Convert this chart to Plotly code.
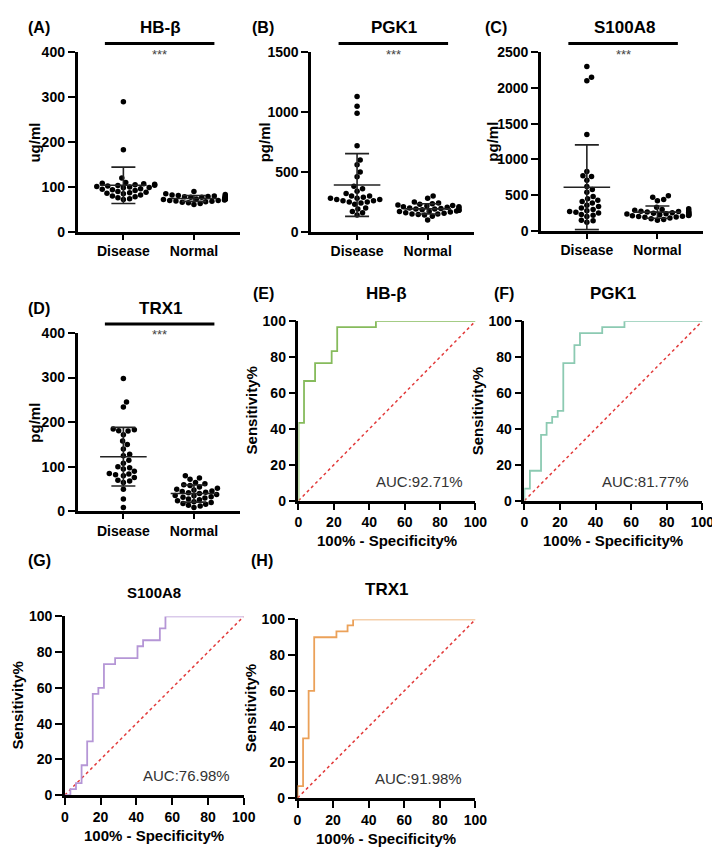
import math

import plotly.graph_objects as go

W, H = 720, 849
FONT = "Liberation Sans, Arial, sans-serif"

GROUPS = ["Disease", "Normal"]

HBB_DISEASE = [290, 183, 120, 110, 108, 107, 106, 105, 104, 103, 102, 101, 100, 99, 98,
               96, 95, 94, 92, 90, 88, 87, 86, 85, 82, 80, 78, 76, 74, 72]
HBB_NORMAL = [90, 85, 83, 82, 81, 80, 80, 79, 78, 78, 77, 77, 76, 76, 75, 75,
              74, 74, 73, 73, 72, 72, 71, 70, 70, 69, 68, 67, 66, 65, 63, 61]
PGK1_DISEASE = [1130, 1050, 990, 720, 600, 560, 500, 460, 380, 360, 340, 320, 300, 290, 280,
                270, 300, 280, 260, 250, 270, 260, 250, 240, 230, 200, 190, 170, 160, 140]
PGK1_NORMAL = [300, 280, 250, 240, 235, 230, 225, 220, 215, 210, 210, 205, 200, 200, 195, 190,
               190, 185, 180, 180, 175, 170, 170, 165, 160, 155, 150, 150, 145, 140, 130, 100]
S100A8_DISEASE = [2300, 2150, 2100, 1350, 830, 770, 760, 710, 620, 580, 540, 480, 450, 430, 410,
                  390, 360, 340, 320, 300, 280, 260, 270, 250, 230, 220, 200, 150, 140, 120]
S100A8_NORMAL = [490, 470, 440, 420, 330, 310, 300, 290, 280, 275, 270, 265, 260, 255, 250, 245,
                 240, 240, 235, 230, 225, 220, 215, 210, 205, 200, 195, 190, 180, 170, 160, 150]
TRX1_DISEASE = [298, 245, 234, 185, 183, 181, 180, 172, 158, 150, 140, 128, 125, 115, 108,
                100, 98, 95, 90, 85, 84, 82, 80, 76, 70, 68, 65, 50, 28, 9]
TRX1_NORMAL = [80, 75, 72, 65, 62, 60, 58, 55, 52, 50, 48, 46, 45, 43, 42, 40,
               38, 36, 35, 33, 32, 30, 28, 26, 24, 22, 20, 18, 16, 14, 12, 9]

# ROC corner points (100% - specificity, sensitivity), drawn as steps
HBB_FPR = [0, 0, 3.125, 9.375, 18.75, 21.875, 43.75, 100]
HBB_TPR = [0, 43.33, 66.67, 76.67, 83.33, 96.67, 100, 100]
PGK1_FPR = [0, 0, 3.125, 9.375, 12.5, 15.625, 18.75, 21.875, 28.125, 31.25, 43.75, 56.25, 100]
PGK1_TPR = [0, 6.67, 16.67, 36.67, 43.33, 46.67, 50, 76.67, 86.67, 93.33, 96.67, 100, 100]
S100A8_FPR = [0, 3.125, 6.25, 9.375, 12.5, 15.625, 18.75, 21.875, 28.125, 40.625, 43.75,
              53.125, 56.25, 100]
S100A8_TPR = [0, 3.33, 6.67, 16.67, 30, 56.67, 60, 73.33, 76.67, 83.33, 86.67, 93.33, 100, 100]
TRX1_FPR = [0, 0, 3.125, 6.25, 9.375, 21.875, 28.125, 31.25, 100]
TRX1_TPR = [0, 6.67, 33.33, 60, 90, 93.33, 96.67, 100, 100]
AUC_LABELS = ["AUC:92.71%", "AUC:81.77%", "AUC:76.98%", "AUC:91.98%"]

X_RANGE = [-0.65, 1.65]


def fx(p):
    return p / W


def fy(p):
    return 1 - p / H


def swarm(values, px_per_unit, px_per_cat, diam=5.8):
    # simple beeswarm: nudge each dot sideways until it clears the ones already placed
    order = sorted(range(len(values)), key=lambda i: values[i])
    placed = []
    offsets = [0.0] * len(values)
    for i in order:
        y = values[i] * px_per_unit
        for step in range(0, 80):
            x = (step + 1) // 2 * (1 if step % 2 else -1) * 0.8
            if all(math.hypot(x - px, y - py) >= diam for px, py in placed):
                break
        placed.append((x, y))
        offsets[i] = x / px_per_cat
    return offsets


def mean_sd(values):
    m = sum(values) / len(values)
    s = math.sqrt(sum((v - m) ** 2 for v in values) / (len(values) - 1))
    return m, s


def text(fig, x, y, s, size=14, bold=True, color="black", angle=0):
    fig.add_annotation(
        x=fx(x), y=fy(y), xref="paper", yref="paper", text=s, showarrow=False,
        textangle=angle, xanchor="center", yanchor="middle",
        font=dict(family=FONT, size=size, color=color, weight="bold" if bold else "normal"),
    )


def axis_style(**extra):
    base = dict(
        showline=True, linewidth=2.5, linecolor="black", mirror=False,
        ticks="outside", ticklen=7, tickwidth=2, tickcolor="black",
        showgrid=False, zeroline=False, fixedrange=True,
        tickfont=dict(family=FONT, size=14, color="black", weight="bold"),
    )
    base.update(extra)
    return base


fig = go.Figure()
layout_axes = {}

scatter_panels = [
    # letter, title, unit, disease, normal, ymax, dtick, (x0, x1, ytop, ybottom), letter x, unit x
    ("(A)", "HB-β", "ug/ml", HBB_DISEASE, HBB_NORMAL, 400, 100, (67, 233, 37, 220), 28, 23),
    ("(B)", "PGK1", "pg/ml", PGK1_DISEASE, PGK1_NORMAL, 1500, 500, (306, 472, 37, 220), 257, 258),
    ("(C)", "S100A8", "pg/ml", S100A8_DISEASE, S100A8_NORMAL, 2500, 500, (541, 707, 37, 219), 495, 491),
    ("(D)", "TRX1", "pg/ml", TRX1_DISEASE, TRX1_NORMAL, 400, 100, (67, 233, 323, 505), 28, 23),
]

for n, (letter, title, unit, dis, nor, ymax, dtick, box, lx, ux) in enumerate(scatter_panels, start=1):
    x0, x1, yt, yb = box
    xa, ya = f"x{n}", f"y{n}"
    layout_axes[f"xaxis{n}"] = axis_style(
        domain=[fx(x0), fx(x1)], anchor=ya, range=X_RANGE,
        tickvals=[0, 1], ticktext=GROUPS, ticklen=5,
    )
    layout_axes[f"yaxis{n}"] = axis_style(
        domain=[fy(yb), fy(yt)], anchor=xa, range=[0, ymax], dtick=dtick, tick0=0,
    )
    px_per_unit = (yb - yt) / ymax
    px_per_cat = (x1 - x0) / (X_RANGE[1] - X_RANGE[0])
    for g, vals in enumerate([dis, nor]):
        offs = swarm(vals, px_per_unit, px_per_cat)
        fig.add_trace(go.Scatter(
            x=[g + o for o in offs], y=vals, mode="markers", xaxis=xa, yaxis=ya,
            marker=dict(size=5.5, color="black"), cliponaxis=False, showlegend=False,
        ))
        m, s = mean_sd(vals)
        fig.add_trace(go.Scatter(
            x=[g - 0.33, g + 0.33, None, g, g, None, g - 0.17, g + 0.17, None, g - 0.17, g + 0.17],
            y=[m, m, None, max(m - s, 0), m + s, None, m + s, m + s, None, m - s, m - s],
            mode="lines", xaxis=xa, yaxis=ya, line=dict(color="#222", width=1.6),
            cliponaxis=True, showlegend=False,
        ))
    # significance bar
    fig.add_shape(type="line", xref="paper", yref="paper",
                  x0=fx(x0 + 28), x1=fx(x0 + 140), y0=fy(yt - 9), y1=fy(yt - 9),
                  line=dict(color="black", width=3))
    text(fig, x0 + 84, yt + 2, "***", size=13, bold=False, color="#444")
    text(fig, lx, yt - 25, letter, size=16)
    text(fig, x0 + 85, yt - 25, title, size=17)
    text(fig, ux, (yt + yb) / 2, unit, size=15, angle=-90)

roc_panels = [
    ("(E)", "HB-β", HBB_FPR, HBB_TPR, "#86bb5c", (293, 474, 311, 494), (257, 283), 17, 283),
    ("(F)", "PGK1", PGK1_FPR, PGK1_TPR, "#8ccab2", (524, 706, 311, 494), (503, 283), 17, 283),
    ("(G)", "S100A8", S100A8_FPR, S100A8_TPR, "#b596d6", (54, 237, 612, 794), (28, 555), 15, 588),
    ("(H)", "TRX1", TRX1_FPR, TRX1_TPR, "#eba159", (292, 474, 615, 797), (256, 555), 17, 585),
]

for k, (letter, title, fpr, tpr, color, box, lpos, tsize, ty) in enumerate(roc_panels):
    n = k + 5
    x0, x1, yt, yb = box
    xa, ya = f"x{n}", f"y{n}"
    layout_axes[f"xaxis{n}"] = axis_style(
        domain=[fx(x0), fx(x1)], anchor=ya, range=[0, 100], dtick=20, tick0=0,
        layer="below traces",
    )
    layout_axes[f"yaxis{n}"] = axis_style(
        domain=[fy(yb), fy(yt)], anchor=xa, range=[0, 100], dtick=20, tick0=0,
        layer="below traces",
    )
    fig.add_trace(go.Scatter(
        x=[0, 100], y=[0, 100], mode="lines", xaxis=xa, yaxis=ya,
        line=dict(color="#e23a3a", width=1.5, dash="dot"), cliponaxis=False, showlegend=False,
    ))
    fig.add_trace(go.Scatter(
        x=fpr, y=tpr, mode="lines", line_shape="hv", xaxis=xa, yaxis=ya,
        line=dict(color=color, width=1.8), cliponaxis=False, showlegend=False,
    ))
    cx = (x0 + x1) / 2
    text(fig, lpos[0], lpos[1], letter, size=16)
    text(fig, cx, ty, title, size=tsize)
    text(fig, x0 - 48, (yt + yb) / 2, "Sensitivity%", size=15, angle=-90)
    text(fig, cx, yb + 41, "100% - Specificity%", size=15)
    text(fig, x0 + 124, yb - 20, AUC_LABELS[k], size=15, bold=False, color="#333")

fig.update_layout(
    width=W, height=H,
    margin=dict(l=0, r=0, t=0, b=0),
    paper_bgcolor="white", plot_bgcolor="white",
    font=dict(family=FONT, color="black"),
    showlegend=False,
    **layout_axes,
)

fig.write_html("out.html")
